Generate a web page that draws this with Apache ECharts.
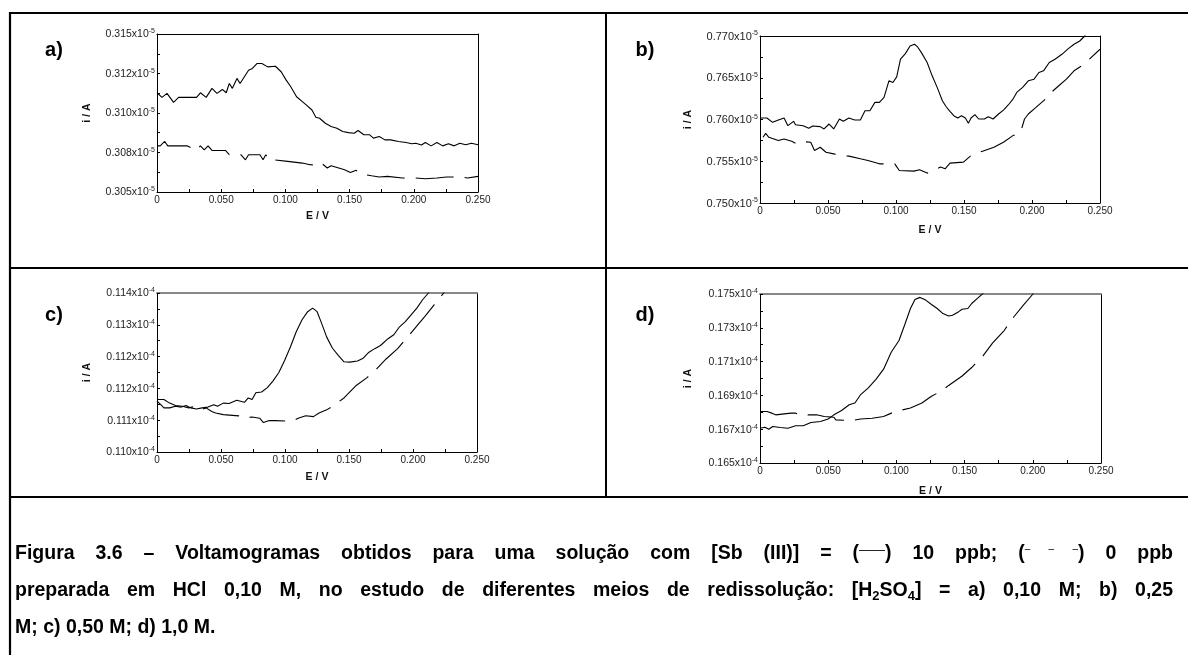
<!DOCTYPE html>
<html>
<head>
<meta charset="utf-8">
<title>Figura 3.6 – Voltamogramas</title>
<script src="https://cdn.jsdelivr.net/npm/echarts@6/dist/echarts.min.js"></script>
<style>
  html, body { margin: 0; padding: 0; background: #fff; }
  #wrap { position: relative; width: 1188px; height: 655px; overflow: hidden; }
  #chart { position: absolute; left: 0; top: 0; width: 1188px; height: 655px; }
  #caption {
    position: absolute; left: 15px; top: 534px; width: 1158px;
    font-family: "Liberation Sans", Arial, sans-serif; font-weight: bold;
    font-size: 19.5px; line-height: 37px; color: #000;
  }
  #caption .j { text-align: justify; text-align-last: justify; }
  #caption sub { font-size: 13px; line-height: 0; vertical-align: -4px; }
  #caption .sym { font-size: 13px; font-weight: normal; vertical-align: 5px; line-height: 0; }
  #caption .dsh { font-size: 10px; font-weight: normal; vertical-align: 7px; line-height: 0; }
</style>
</head>
<body>
<div id="wrap">
  <div id="chart"></div>
  <div id="caption">
    <div class="j">Figura 3.6 – Voltamogramas obtidos para uma solução com [Sb (III)] = (<span class="sym">——</span>) 10 ppb; (<span class="dsh">–&nbsp;–&nbsp;–</span>) 0 ppb</div>
    <div class="j">preparada em HCl 0,10 M, no estudo de diferentes meios de redissolução: [H<sub>2</sub>SO<sub>4</sub>] = a) 0,10 M; b) 0,25</div>
    <div>M; c) 0,50 M; d) 1,0 M.</div>
  </div>
</div>
<script>
// Potential axis (E / V), shared by all four voltammograms
const xTickLabels = ['0', '0.050', '0.100', '0.150', '0.200', '0.250'];

// Current axis tick labels (mantissa of i / A), bottom to top
const aTickLabels = ['0.305', '0.308', '0.310', '0.312', '0.315'];
const bTickLabels = ['0.750', '0.755', '0.760', '0.765', '0.770'];
const cTickLabels = ['0.110', '0.111', '0.112', '0.112', '0.113', '0.114'];
const dTickLabels = ['0.165', '0.167', '0.169', '0.171', '0.173', '0.175'];

// a) [H2SO4] = 0,10 M  — values in units of 1e-5 A
const aSb10ppb = [[0,0.31128],[0.0039,0.31099],[0.0078,0.31124],[0.0129,0.31067],[0.0168,0.31099],[0.0308,0.31099],[0.0338,0.31128],[0.0383,0.31099],[0.0428,0.31156],[0.0467,0.31124],[0.0509,0.31149],[0.0539,0.31128],[0.0563,0.31187],[0.0587,0.31156],[0.0623,0.31219],[0.0647,0.31187],[0.0713,0.31271],[0.0743,0.31282],[0.0778,0.31313],[0.0817,0.31313],[0.0862,0.31292],[0.0922,0.31296],[0.0967,0.31261],[0.1006,0.31208],[0.1042,0.31166],[0.1087,0.31103],[0.1132,0.31072],[0.1162,0.31051],[0.1207,0.31019],[0.1237,0.30973],[0.1266,0.30967],[0.1311,0.30935],[0.1356,0.30914],[0.1401,0.30904],[0.1446,0.30883],[0.1491,0.30876],[0.1536,0.30872],[0.1566,0.30889],[0.1611,0.30862],[0.1656,0.30862],[0.1686,0.30841],[0.1731,0.30851],[0.1775,0.30830],[0.1820,0.30830],[0.1880,0.30820],[0.1940,0.30813],[0.1985,0.30805],[0.2015,0.30809],[0.2060,0.30797],[0.2090,0.30813],[0.2135,0.30792],[0.2180,0.30813],[0.2225,0.30792],[0.2270,0.30805],[0.2314,0.30792],[0.2359,0.30809],[0.2404,0.30799],[0.2449,0.30809],[0.2500,0.30799]];
const aSb0ppb = [[0,0.30792],[0.0025,0.30792],[0.0060,0.30820],[0.0084,0.30792],[0.0234,0.30792],[0.0308,0.30763],[0.0338,0.30792],[0.0368,0.30767],[0.0398,0.30792],[0.0428,0.30763],[0.0533,0.30763],[0.0563,0.30736],[0.0653,0.30736],[0.0689,0.30704],[0.0713,0.30736],[0.0802,0.30736],[0.0826,0.30704],[0.0847,0.30736],[0.0877,0.30700],[0.0907,0.30704],[0.1018,0.30694],[0.1132,0.30683],[0.1192,0.30673],[0.1251,0.30668],[0.1281,0.30683],[0.1326,0.30652],[0.1356,0.30666],[0.1461,0.30641],[0.1506,0.30624],[0.1551,0.30637],[0.1581,0.30616],[0.1671,0.30603],[0.1731,0.30595],[0.1796,0.30599],[0.1910,0.30589],[0.2000,0.30589],[0.2090,0.30584],[0.2180,0.30589],[0.2255,0.30595],[0.2359,0.30595],[0.2419,0.30589],[0.2500,0.30599]];

// b) [H2SO4] = 0,25 M  — values in units of 1e-5 A
const bSb10ppb = [[0,0.76018],[0.0051,0.76018],[0.0093,0.75966],[0.0135,0.75994],[0.0177,0.76018],[0.0205,0.75926],[0.0247,0.75978],[0.0261,0.75938],[0.0317,0.75926],[0.0359,0.75895],[0.0387,0.75922],[0.0443,0.75915],[0.0471,0.75887],[0.0508,0.75946],[0.0542,0.75887],[0.0584,0.76006],[0.0612,0.75978],[0.0654,0.76018],[0.0696,0.75994],[0.0738,0.75994],[0.0772,0.76105],[0.0808,0.76105],[0.0845,0.76205],[0.0878,0.76205],[0.0912,0.76264],[0.0948,0.76463],[0.0977,0.76443],[0.1005,0.76511],[0.1033,0.76722],[0.1069,0.76789],[0.1103,0.76881],[0.1136,0.76901],[0.1159,0.76869],[0.1187,0.76801],[0.1229,0.76682],[0.1266,0.76523],[0.1305,0.76376],[0.1341,0.76225],[0.1369,0.76153],[0.1397,0.76097],[0.1425,0.76046],[0.1454,0.76018],[0.1482,0.76046],[0.1510,0.76018],[0.1532,0.75954],[0.1552,0.76018],[0.1580,0.76058],[0.1608,0.76006],[0.1650,0.76006],[0.1678,0.76034],[0.1714,0.76006],[0.1754,0.76066],[0.1790,0.76113],[0.1827,0.76177],[0.1860,0.76245],[0.1888,0.76324],[0.1931,0.76384],[0.1973,0.76463],[0.2015,0.76483],[0.2051,0.76563],[0.2085,0.76583],[0.2127,0.76682],[0.2169,0.76722],[0.2220,0.76781],[0.2267,0.76849],[0.2309,0.76901],[0.2351,0.76940],[0.2388,0.77000],[0.2430,0.77100]];
const bSb0ppb = [[0.0022,0.75787],[0.0042,0.75834],[0.0065,0.75787],[0.0135,0.75748],[0.0177,0.75767],[0.0233,0.75739],[0.0261,0.75716],[0.0289,0.75739],[0.0373,0.75727],[0.0401,0.75628],[0.0443,0.75668],[0.0485,0.75608],[0.0542,0.75588],[0.0598,0.75568],[0.0654,0.75561],[0.0738,0.75529],[0.0794,0.75509],[0.0878,0.75469],[0.0991,0.75469],[0.1024,0.75390],[0.1131,0.75382],[0.1173,0.75398],[0.1229,0.75358],[0.1271,0.75382],[0.1327,0.75430],[0.1361,0.75410],[0.1397,0.75477],[0.1496,0.75489],[0.1552,0.75568],[0.1636,0.75620],[0.1720,0.75668],[0.1790,0.75727],[0.1860,0.75807],[0.1916,0.75847],[0.1945,0.76006],[0.1973,0.76066],[0.2029,0.76145],[0.2099,0.76245],[0.2155,0.76344],[0.2197,0.76404],[0.2253,0.76483],[0.2309,0.76583],[0.2365,0.76642],[0.2421,0.76722],[0.2500,0.76841]];

// c) [H2SO4] = 0,50 M  — values in units of 1e-4 A
const cSb10ppb = [[0,0.11128],[0.0030,0.11119],[0.0054,0.11111],[0.0099,0.11111],[0.0144,0.11115],[0.0189,0.11113],[0.0228,0.11117],[0.0263,0.11111],[0.0308,0.11108],[0.0353,0.11111],[0.0398,0.11113],[0.0443,0.11119],[0.0473,0.11115],[0.0518,0.11123],[0.0563,0.11122],[0.0623,0.11130],[0.0683,0.11125],[0.0713,0.11136],[0.0743,0.11132],[0.0772,0.11149],[0.0817,0.11151],[0.0862,0.11162],[0.0907,0.11179],[0.0952,0.11200],[0.0997,0.11230],[0.1042,0.11264],[0.1087,0.11302],[0.1132,0.11332],[0.1177,0.11353],[0.1216,0.11362],[0.1251,0.11353],[0.1287,0.11323],[0.1326,0.11289],[0.1371,0.11261],[0.1416,0.11243],[0.1461,0.11227],[0.1506,0.11226],[0.1566,0.11229],[0.1611,0.11236],[0.1656,0.11251],[0.1701,0.11260],[0.1746,0.11268],[0.1805,0.11285],[0.1850,0.11295],[0.1895,0.11315],[0.1940,0.11328],[0.1985,0.11345],[0.2030,0.11362],[0.2075,0.11383],[0.2120,0.11400],[0.2160,0.11420]];
const cSb0ppb = [[0,0.11132],[0.0054,0.11132],[0.0099,0.11123],[0.0144,0.11117],[0.0198,0.11115],[0.0249,0.11111],[0.0293,0.11115],[0.0338,0.11106],[0.0383,0.11111],[0.0428,0.11102],[0.0458,0.11098],[0.0518,0.11094],[0.0638,0.11091],[0.0683,0.11085],[0.0743,0.11088],[0.0802,0.11085],[0.0832,0.11074],[0.0877,0.11079],[0.0922,0.11079],[0.1057,0.11077],[0.1102,0.11085],[0.1162,0.11091],[0.1222,0.11089],[0.1266,0.11098],[0.1326,0.11106],[0.1371,0.11115],[0.1461,0.11136],[0.1551,0.11166],[0.1641,0.11187],[0.1716,0.11209],[0.1790,0.11234],[0.1880,0.11260],[0.1970,0.11294],[0.2045,0.11323],[0.2090,0.11340],[0.2165,0.11370],[0.2240,0.11400],[0.2270,0.11425]];

// d) [H2SO4] = 1,0 M  — values in units of 1e-4 A
const dSb10ppb = [[0,0.16706],[0.0036,0.16712],[0.0065,0.16700],[0.0093,0.16716],[0.0149,0.16710],[0.0205,0.16706],[0.0261,0.16720],[0.0317,0.16720],[0.0373,0.16740],[0.0443,0.16746],[0.0499,0.16760],[0.0542,0.16785],[0.0598,0.16811],[0.0654,0.16845],[0.0696,0.16855],[0.0738,0.16905],[0.0794,0.16945],[0.0850,0.16995],[0.0906,0.17055],[0.0962,0.17155],[0.1019,0.17225],[0.1061,0.17318],[0.1103,0.17414],[0.1136,0.17468],[0.1173,0.17480],[0.1215,0.17464],[0.1257,0.17438],[0.1299,0.17414],[0.1341,0.17384],[0.1383,0.17370],[0.1411,0.17374],[0.1454,0.17394],[0.1482,0.17410],[0.1524,0.17414],[0.1552,0.17444],[0.1594,0.17474],[0.1636,0.17504],[0.1690,0.17560]];
const dSb0ppb = [[0,0.16805],[0.0051,0.16805],[0.0087,0.16795],[0.0115,0.16785],[0.0227,0.16795],[0.0261,0.16795],[0.0303,0.16779],[0.0359,0.16785],[0.0415,0.16785],[0.0471,0.16775],[0.0542,0.16771],[0.0556,0.16755],[0.0668,0.16751],[0.0738,0.16760],[0.0822,0.16765],[0.0906,0.16775],[0.0991,0.16805],[0.1103,0.16825],[0.1187,0.16855],[0.1257,0.16895],[0.1327,0.16925],[0.1383,0.16959],[0.1482,0.17015],[0.1552,0.17065],[0.1636,0.17135],[0.1706,0.17211],[0.1790,0.17284],[0.1860,0.17364],[0.1931,0.17434],[0.2001,0.17500],[0.2030,0.17550]];

const FONT = '"Liberation Sans", Arial, sans-serif';

const panels = [
  { letter: 'a)', letterPos: [54, 50], grid: { left: 157, top: 34, width: 321, height: 158 },
    yMin: 0.305, yMax: 0.315, yStep: 0.0025, yLabels: aTickLabels, exp: '-5',
    solid: aSb10ppb, dashed: aSb0ppb, topColor: '#000', topWidth: 1, xNameGap: 19, yNameGap: 64, labelSize: 10.5 },
  { letter: 'b)', letterPos: [645, 50], grid: { left: 760, top: 36, width: 340, height: 167 },
    yMin: 0.750, yMax: 0.770, yStep: 0.005, yLabels: bTickLabels, exp: '-5',
    solid: bSb10ppb, dashed: bSb0ppb, topColor: '#000', topWidth: 1, xNameGap: 22, yNameGap: 66, labelSize: 11 },
  { letter: 'c)', letterPos: [54, 315], grid: { left: 157, top: 293, width: 320, height: 159 },
    yMin: 0.110, yMax: 0.114, yStep: 0.0008, yLabels: cTickLabels, exp: '-4',
    solid: cSb10ppb, dashed: cSb0ppb, topColor: '#888', topWidth: 2, xNameGap: 20, yNameGap: 64, labelSize: 10.5 },
  { letter: 'd)', letterPos: [645, 315], grid: { left: 760, top: 294, width: 341, height: 169 },
    yMin: 0.165, yMax: 0.175, yStep: 0.002, yLabels: dTickLabels, exp: '-4',
    solid: dSb10ppb, dashed: dSb0ppb, topColor: '#888', topWidth: 2, xNameGap: 23, yNameGap: 66, labelSize: 10.5 }
];

const grids = [], xAxes = [], yAxes = [], series = [], graphics = [];

panels.forEach((p, gi) => {
  grids.push(Object.assign({ containLabel: false }, p.grid));

  // bottom potential axis
  xAxes.push({
    gridIndex: gi, type: 'value', min: 0, max: 0.25, interval: 0.025,
    axisLine: { show: true, onZero: false, lineStyle: { color: '#000', width: 1 } },
    axisTick: { show: true, inside: true, length: 3, lineStyle: { color: '#000' } },
    splitLine: { show: false },
    axisLabel: {
      margin: 3, color: '#222', fontFamily: FONT, fontSize: 10,
      formatter: (v) => { const k = Math.round(v / 0.025); return k % 2 ? '' : xTickLabels[k / 2]; }
    },
    name: 'E / V', nameLocation: 'middle', nameGap: p.xNameGap,
    nameTextStyle: { fontFamily: FONT, fontWeight: 'bold', fontSize: 10.5, color: '#111' }
  });
  // top frame edge
  xAxes.push({
    gridIndex: gi, type: 'value', position: 'top', min: 0, max: 0.25,
    axisLine: { show: true, onZero: false, lineStyle: { color: p.topColor, width: p.topWidth } },
    axisTick: { show: false }, axisLabel: { show: false }, splitLine: { show: false }
  });

  const half = p.yStep / 2;
  yAxes.push({
    gridIndex: gi, type: 'value', min: p.yMin, max: p.yMax, interval: half,
    axisLine: { show: true, onZero: false, lineStyle: { color: '#000', width: 1 } },
    axisTick: { show: true, inside: true, length: 3, lineStyle: { color: '#000' } },
    splitLine: { show: false },
    axisLabel: {
      margin: 2, fontFamily: FONT,
      formatter: (v) => {
        const k = Math.round((v - p.yMin) / half);
        return k % 2 ? '' : '{m|' + p.yLabels[k / 2] + 'x10}{s|' + p.exp + '}';
      },
      rich: {
        m: { fontFamily: FONT, fontSize: p.labelSize, color: '#222', lineHeight: 12, verticalAlign: 'bottom' },
        s: { fontFamily: FONT, fontSize: 7, color: '#222', verticalAlign: 'top' }
      }
    },
    name: 'i / A', nameLocation: 'middle', nameGap: p.yNameGap,
    nameTextStyle: { fontFamily: FONT, fontWeight: 'bold', fontSize: 10.5, color: '#111' }
  });
  // right frame edge
  yAxes.push({
    gridIndex: gi, type: 'value', position: 'right', min: p.yMin, max: p.yMax,
    axisLine: { show: true, onZero: false, lineStyle: { color: '#000', width: 1 } },
    axisTick: { show: false }, axisLabel: { show: false }, splitLine: { show: false }
  });

  series.push({
    name: p.letter + ' 10 ppb', type: 'line', xAxisIndex: gi * 2, yAxisIndex: gi * 2,
    data: p.solid, symbol: 'none', clip: true, silent: true,
    lineStyle: { color: '#000', width: 1.1 }
  });
  series.push({
    name: p.letter + ' 0 ppb', type: 'line', xAxisIndex: gi * 2, yAxisIndex: gi * 2,
    data: p.dashed, symbol: 'none', clip: true, silent: true,
    lineStyle: { color: '#000', width: 1.1, type: [38, 11] }
  });

  graphics.push({
    type: 'text', x: p.letterPos[0], y: p.letterPos[1],
    style: { text: p.letter, font: 'bold 20px ' + FONT, fill: '#000', textAlign: 'center', textVerticalAlign: 'middle' }
  });
});

// table rules around the four panels and the caption
const rule = (x1, y1, x2, y2, w) => ({
  type: 'line', shape: { x1, y1, x2, y2 }, style: { stroke: '#000', lineWidth: w }
});
graphics.push(rule(9, 13, 1188, 13, 2.2));
graphics.push(rule(10, 12, 10, 655, 2.2));
graphics.push(rule(9, 268, 1188, 268, 2.2));
graphics.push(rule(606, 13, 606, 497, 2));
graphics.push(rule(9, 497, 1188, 497, 2.2));

const chart = echarts.init(document.getElementById('chart'), null, { renderer: 'canvas' });
chart.setOption({
  animation: false,
  backgroundColor: '#fff',
  grid: grids,
  xAxis: xAxes,
  yAxis: yAxes,
  series: series,
  graphic: graphics
});
</script>
</body>
</html>
